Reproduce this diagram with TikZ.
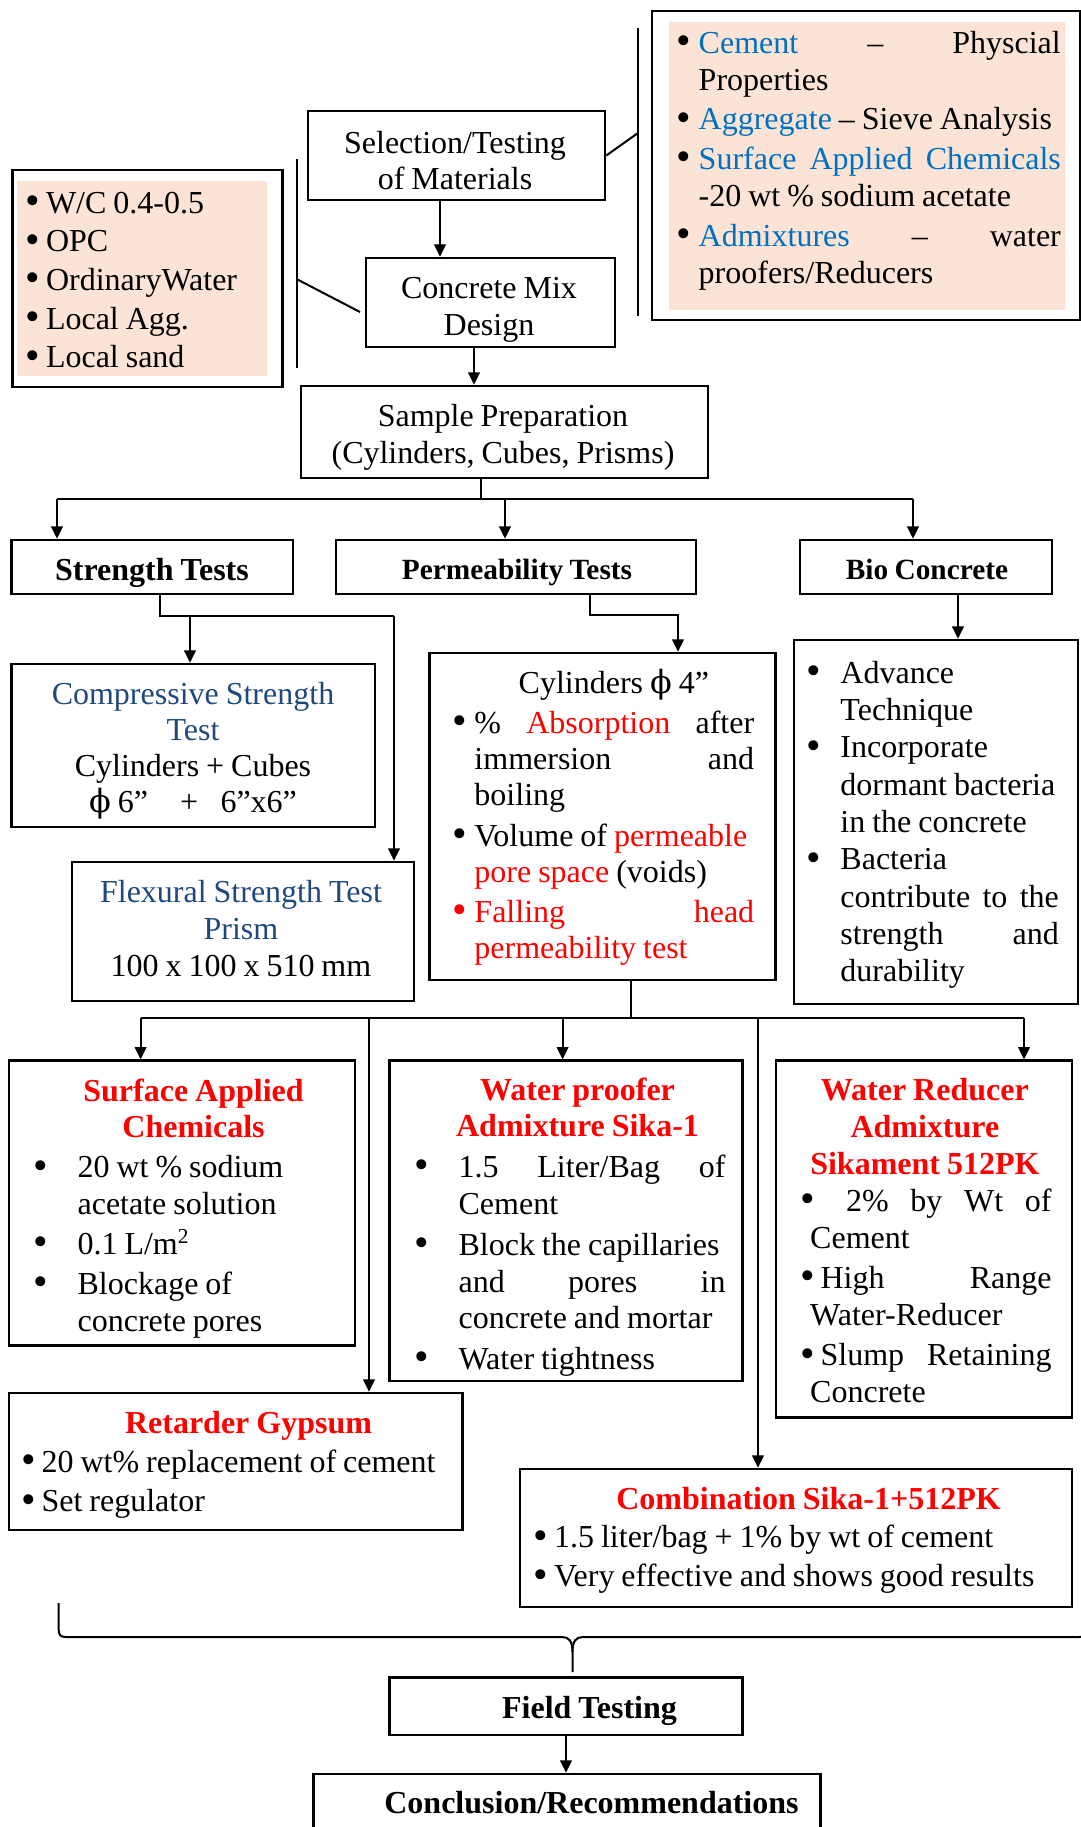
\documentclass[tikz,border=0pt]{standalone}
\usepackage{fontspec}
\setmainfont{Liberation Serif}[WordSpace=0.87]
\newfontfamily\phifont{DejaVu Serif}
\usepackage{graphicx}
\usepackage{tikz}
\usetikzlibrary{arrows.meta,fit}
\usepackage{xcolor}
\definecolor{matblue}{RGB}{0,112,192}
\definecolor{testblue}{RGB}{31,73,125}
\definecolor{peach}{RGB}{251,228,213}
\newcommand{\phis}{{\phifont ϕ}}
\newcommand{\bigdot}{\raisebox{-0.5pt}{\scalebox{1.3}{\textbullet}}}
\newcommand{\bulbox}[1]{\makebox[#1][l]{\hspace*{-1pt}\bigdot}}
\newcommand{\hangpad}[1]{\hspace*{#1}}
\newcommand{\redtx}[1]{\textcolor{red}{#1}}
\newcommand{\ctrline}[1]{\makebox[\linewidth]{#1}}

\begin{document}
\begin{tikzpicture}[x=0.375pt,y=-0.375pt,
	frame/.style={draw,line width=0.95pt,inner sep=0pt},
	shade/.style={fill=peach,inner sep=0pt},
	body/.style={anchor=base west,align=flush left,inner sep=0pt,text width=#1,
		font=\fontsize{12pt}{14pt}\selectfont},
	head/.style={anchor=base,align=flush center,inner sep=0pt,text width=#1,
		font=\fontsize{12pt}{14pt}\selectfont},
	link/.style={line width=0.75pt},
	arr/.style={link,-{Triangle[length=4.6pt,width=4.3pt]}}]
	
	\useasboundingbox (0,0) rectangle (1081,1827);
	
	% materials at the left
	\node[shade,fit={(17,181) (267,376)}] (matbg) {};
	\node[frame,fit={(12.4,170) (282.7,387)}] (mat) {};
	\node[body=88pt,font=\fontsize{12pt}{14.5pt}\selectfont] (matT) at (27.6,213)
	{\bulbox{6.7pt}W/C 0.4-0.5\\ \bulbox{6.7pt}OPC\\ \bulbox{6.7pt}OrdinaryWater\\
		\bulbox{6.7pt}Local Agg.\\ \bulbox{6.7pt}Local sand};
	
	% properties at the right
	\node[shade,fit={(669,22) (1065,310)}] (propbg) {};
	\node[frame,fit={(652,11) (1080,320)}] (prop) {};
	\node[body=143pt,font=\fontsize{12pt}{13.9pt}\selectfont] (propT) at (679,53)
	{\bulbox{7.2pt}\textcolor{matblue}{Cement}\hfill–\hfill Physcial\\
		\hangpad{7.2pt}Properties\\[1pt]
		\bulbox{7.2pt}\textcolor{matblue}{Aggregate} – Sieve Analysis\\[1pt]
		\bulbox{7.2pt}\textcolor{matblue}{Surface\hfill Applied\hfill Chemicals}\\
		\hangpad{7.2pt}-20 wt \% sodium acetate\\[1pt]
		\bulbox{7.2pt}\textcolor{matblue}{Admixtures}\hfill–\hfill water\\
		\hangpad{7.2pt}proofers/Reducers};
	
	% main chain
	\node[frame,fit={(308,111) (605,200)}] (sel) {};
	\node[head=105pt,font=\fontsize{12pt}{13.5pt}\selectfont] (selT) at (455,153)
	{Selection/Testing\\of Materials};
	
	\node[frame,fit={(366,258) (615,347)}] (mix) {};
	\node[head=90pt] (mixT) at (489,298) {Concrete Mix\\Design};
	
	\node[frame,fit={(301,386) (708,478)}] (prep) {};
	\node[head=145pt] (prepT) at (503,426)
	{Sample Preparation\\(Cylinders, Cubes, Prisms)};
	
	% three kinds of tests
	\node[frame,fit={(11.7,540) (293,594)}] (str) {};
	\node[head=100pt,font=\bfseries\fontsize{12pt}{14pt}\selectfont] (strT) at (152,580)
	{Strength Tests};
	\node[frame,fit={(336,540) (696,594)}] (perm) {};
	\node[head=120pt,font=\bfseries\fontsize{11pt}{13pt}\selectfont] (permT) at (517,579)
	{Permeability Tests};
	\node[frame,fit={(800,540) (1052,594)}] (bio) {};
	\node[head=90pt,font=\bfseries\fontsize{11pt}{13pt}\selectfont] (bioT) at (927,579)
	{Bio Concrete};
	
	% strength
	\node[frame,fit={(11.7,664) (375,827)}] (comp) {};
	\node[head=130pt,font=\fontsize{12pt}{13.6pt}\selectfont] (compT) at (193,704)
	{\textcolor{testblue}{Compressive Strength}\\ \textcolor{testblue}{Test}\\
		Cylinders + Cubes\\ \phis\ 6”\quad+\hspace{0.7em}6”x6”};
	\node[frame,fit={(72,862) (414,1001)}] (flex) {};
	\node[head=125pt] (flexT) at (241,902)
	{\textcolor{testblue}{Flexural Strength Test}\\ \textcolor{testblue}{Prism}\\
		100 x 100 x 510 mm};
	
	% permeability
	\node[frame,fit={(429.5,653) (775.6,980)}] (cyl) {};
	\node[body=112pt,font=\fontsize{12pt}{13.6pt}\selectfont] (cylT) at (455,693)
	{\ctrline{\hspace*{6.8pt}Cylinders \phis\ 4”}\\[1.5pt]
		\bulbox{7.1pt}\%\hfill\redtx{Absorption}\hfill after\\
		\hangpad{7.1pt}immersion\hfill and\\
		\hangpad{7.1pt}boiling\\[1.5pt]
		\bulbox{7.1pt}Volume of \redtx{permeable}\\
		\hangpad{7.1pt}\redtx{pore space} (voids)\\[1.5pt]
		\redtx{\bulbox{7.1pt}Falling\hfill head}\\
		\hangpad{7.1pt}\redtx{permeability test}};
	
	% bio concrete
	\node[frame,fit={(794,640) (1078,1004)}] (biod) {};
	\node[body=93.5pt] (biodT) at (809,683)
	{\bulbox{11.6pt}Advance\\ \hangpad{11.6pt}Technique\\
		\bulbox{11.6pt}Incorporate\\ \hangpad{11.6pt}dormant bacteria\\
		\hangpad{11.6pt}in the concrete\\ \bulbox{11.6pt}Bacteria\\
		\hangpad{11.6pt}contribute\hfill to\hfill the\\
		\hangpad{11.6pt}strength\hfill and\\ \hangpad{11.6pt}durability};
	
	% treatments
	\node[frame,fit={(9,1060.7) (355,1345.7)}] (sac) {};
	\node[body=117.75pt,font=\fontsize{12pt}{13.8pt}\selectfont] (sacT) at (36,1101)
	{\ctrline{\redtx{\textbf{Surface Applied}}}\\
		\ctrline{\redtx{\textbf{Chemicals}}}\\[1.2pt]
		\bulbox{15.4pt}20 wt \% sodium\\ \hangpad{15.4pt}acetate solution\\[1.2pt]
		\bulbox{15.4pt}0.1 L/m\textsuperscript{2}\\[1.2pt]
		\bulbox{15.4pt}Blockage of\\ \hangpad{15.4pt}concrete pores};
	
	\node[frame,fit={(389.5,1060.7) (742.5,1381)}] (wp) {};
	\node[body=115.5pt,font=\fontsize{12pt}{13.8pt}\selectfont] (wpT) at (417,1100)
	{\ctrline{\hspace*{4.5pt}\redtx{\textbf{Water proofer}}}\\
		\ctrline{\hspace*{4.5pt}\redtx{\textbf{Admixture Sika-1}}}\\[1.5pt]
		\bulbox{15.4pt}1.5\hfill Liter/Bag\hfill of\\ \hangpad{15.4pt}Cement\\[1.5pt]
		\bulbox{15.4pt}Block the capillaries\\ \hangpad{15.4pt}and\hfill pores\hfill in\\
		\hangpad{15.4pt}concrete and mortar\\[1.5pt]
		\bulbox{15.4pt}Water tightness};
	
	\node[frame,fit={(776,1060.7) (1072,1417.7)}] (wr) {};
	\node[body=93pt,font=\fontsize{12pt}{13.9pt}\selectfont] (wrT) at (803,1100)
	{\ctrline{\hspace*{-2pt}\redtx{\textbf{Water Reducer}}}\\
		\ctrline{\hspace*{-2pt}\redtx{\textbf{Admixture}}}\\
		\ctrline{\hspace*{-2pt}\redtx{\textbf{Sikament 512PK}}}\\
		\bulbox{16pt}2\%\hfill by\hfill Wt\hfill of\\ \hangpad{2.5pt}Cement\\[1.2pt]
		\bulbox{6.4pt}High\hfill Range\\ \hangpad{2.5pt}Water-Reducer\\[1.2pt]
		\bulbox{6.4pt}Slump\hfill Retaining\\ \hangpad{2.5pt}Concrete};
	
	\node[frame,fit={(9,1393) (462.6,1530)}] (ret) {};
	\node[body=168pt,font=\fontsize{12pt}{14.8pt}\selectfont] (retT) at (24,1433)
	{\ctrline{\redtx{\textbf{Retarder Gypsum}}}\\
		\bulbox{6.4pt}20 wt\% replacement of cement\\ \bulbox{6.4pt}Set regulator};
	
	\node[frame,fit={(520,1469) (1072,1607)}] (comb) {};
	\node[body=204pt,font=\fontsize{12pt}{14.6pt}\selectfont] (combT) at (536,1509)
	{\ctrline{\redtx{\textbf{Combination Sika-1+512PK}}}\\
		\bulbox{6.6pt}1.5 liter/bag + 1\% by wt of cement\\
		\bulbox{6.6pt}Very effective and shows good results};
	
	% end of the chain
	\node[frame,fit={(389.5,1677.7) (742.5,1735)}] (field) {};
	\node[head=100pt,font=\bfseries\fontsize{12pt}{14pt}\selectfont] (fieldT) at (589.5,1718)
	{Field Testing};
	\node[frame,fit={(313.7,1774) (820.4,1860)}] (concl) {};
	\node[head=170pt,font=\bfseries\fontsize{12pt}{14pt}\selectfont] (conclT) at (591.5,1813)
	{Conclusion/Recommendations};
	
	% callout bars
	\coordinate (rtop) at (638,28);
	\coordinate (rbot) at (638,316);
	\coordinate (rjoin) at (638,133);
	\draw[link] (rtop) -- (rbot);
	\draw[link] (sel.east) -- (rjoin);
	\coordinate (ltop) at (296.5,159);
	\coordinate (lbot) at (296.5,368);
	\coordinate (ljoin) at (296.5,279);
	\coordinate (lend) at (360,312);
	\draw[link] (ltop) -- (lbot);
	\draw[link] (ljoin) -- (lend);
	
	% connectors
	\coordinate (selout) at (440,200);
	\draw[arr] (selout) -- (selout |- mix.north);
	\coordinate (mixout) at (474,347);
	\draw[arr] (mixout) -- (mixout |- prep.north);
	
	\coordinate (bus) at (480.5,498.6);
	\coordinate (b1) at (57,498.6);
	\coordinate (b2) at (505,498.6);
	\coordinate (b3) at (913,498.6);
	\draw[link] (prep.south -| bus) -- (bus);
	\draw[link] (b1) -- (b3);
	\draw[arr] (b1) -- (b1 |- str.north);
	\draw[arr] (b2) -- (b2 |- perm.north);
	\draw[arr] (b3) -- (b3 |- bio.north);
	
	\coordinate (s1) at (160,616);
	\coordinate (s2) at (190,616);
	\coordinate (s3) at (394,616);
	\draw[link] (str.south -| s1) -- (s1) -- (s3);
	\draw[arr] (s2) -- (s2 |- comp.north);
	\draw[arr] (s3) -- (s3 |- flex.north);
	
	\coordinate (p1) at (589.5,615);
	\coordinate (p2) at (678,615);
	\draw[arr] (perm.south -| p1) -- (p1) -- (p2) -- (p2 |- cyl.north);
	
	\coordinate (q1) at (958,594);
	\draw[arr] (q1) -- (q1 |- biod.north);
	
	\coordinate (m0) at (631,1018);
	\coordinate (m1) at (140.6,1018);
	\coordinate (m2) at (369,1018);
	\coordinate (m3) at (562.6,1018);
	\coordinate (m4) at (758,1018);
	\coordinate (m5) at (1024,1018);
	\draw[link] (cyl.south -| m0) -- (m0);
	\draw[link] (m1) -- (m5);
	\draw[arr] (m1) -- (m1 |- sac.north);
	\draw[arr] (m2) -- (m2 |- ret.north);
	\draw[arr] (m3) -- (m3 |- wp.north);
	\draw[arr] (m4) -- (m4 |- comb.north);
	\draw[arr] (m5) -- (m5 |- wr.north);
	
	% brace gathering the treatments
	\draw[link] (58.6,1603) -- (58.6,1629)
	.. controls (58.6,1635) and (60.5,1637) .. (66,1637) -- (562,1637)
	.. controls (569,1637) and (572.5,1641) .. (572.5,1652) -- (572.5,1672);
	\draw[link] (572.5,1652)
	.. controls (572.5,1641) and (576,1637) .. (583,1637) -- (1079,1637)
	.. controls (1084.5,1637) and (1086.4,1635) .. (1086.4,1629) -- (1086.4,1603);
	
	\draw[arr] (field.south) -- (field.south |- concl.north);
	
\end{tikzpicture}
\end{document}
